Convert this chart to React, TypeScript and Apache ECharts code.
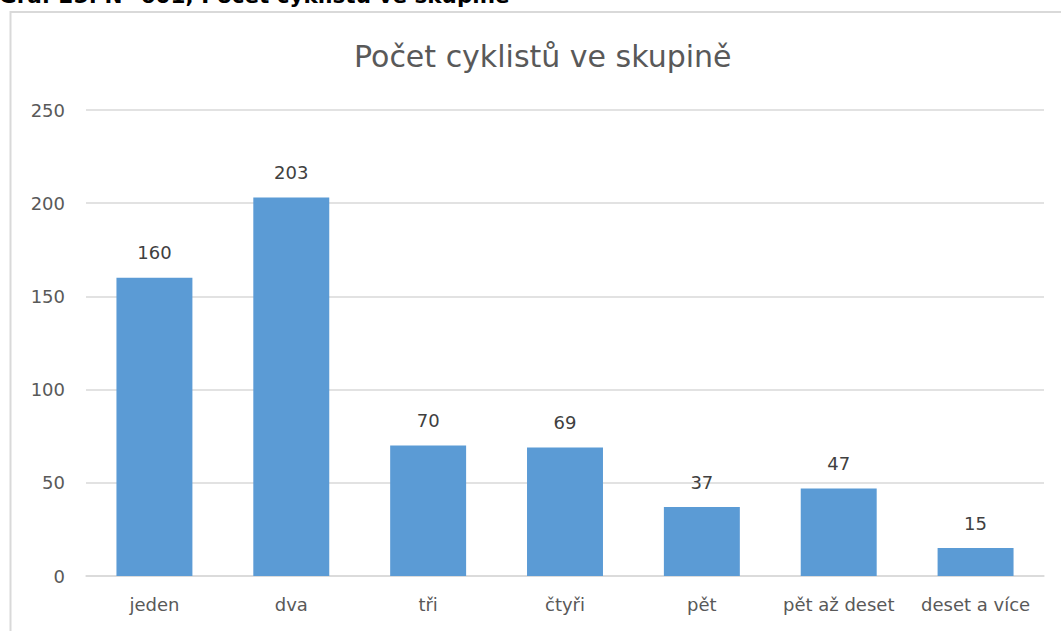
import React, { useEffect, useRef } from "react";
import * as echarts from "echarts";

const categories = ["jeden", "dva", "tři", "čtyři", "pět", "pět až deset", "deset a více"];
const values = [160, 203, 70, 69, 37, 47, 15];
const chartTitle = "Počet cyklistů ve skupině";
const captionText = "Graf 25: N=601, Počet cyklistů ve skupině";

export default function App() {
  const ref = useRef<HTMLDivElement>(null);
  useEffect(() => {
    if (!ref.current) return;
    const chart = echarts.init(ref.current, null, { renderer: "svg" });
    const font = "'DejaVu Sans', sans-serif";
    chart.setOption({
      animation: false,
      backgroundColor: "#ffffff",
      textStyle: { fontFamily: font },
      title: {
        text: chartTitle,
        left: 354,
        top: 41,
        padding: 0,
        textStyle: { fontFamily: font, fontSize: 30, fontWeight: "normal", color: "#595959" },
      },
      graphic: [
        {
          type: "rect",
          shape: { x: 10.5, y: 12, width: 1200, height: 800 },
          style: { fill: "none", stroke: "#d9d9d9", lineWidth: 2 },
          silent: true,
        },
        {
          type: "text",
          left: -1,
          top: -16,
          style: {
            text: captionText,
            fontFamily: font,
            fontWeight: "bold",
            fontSize: 21.5,
            fill: "#000000",
          },
        },
      ],
      grid: { left: 86, right: 17, top: 110, bottom: 55, containLabel: false },
      xAxis: {
        type: "category",
        data: categories,
        axisLine: { lineStyle: { color: "#d9d9d9", width: 1.5 } },
        axisTick: { show: false },
        axisLabel: { color: "#595959", fontSize: 18, margin: 19, fontFamily: font, interval: 0 },
      },
      yAxis: {
        type: "value",
        min: 0,
        max: 250,
        interval: 50,
        axisLine: { show: false },
        axisTick: { show: false },
        splitLine: { lineStyle: { color: "#d9d9d9", width: 1.5 } },
        axisLabel: { color: "#595959", fontSize: 18, margin: 21, fontFamily: font },
      },
      series: [
        {
          type: "bar",
          data: values,
          barCategoryGap: "44.5%",
          itemStyle: { color: "#5b9bd5" },
          label: {
            show: true,
            position: "top",
            distance: 16,
            color: "#404040",
            fontSize: 18,
            fontFamily: font,
          },
        },
      ],
    });
    return () => chart.dispose();
  }, []);
  return (
    <div
      ref={ref}
      style={{ position: "fixed", left: 0, top: 0, width: 1061, height: 631 }}
    />
  );
}
